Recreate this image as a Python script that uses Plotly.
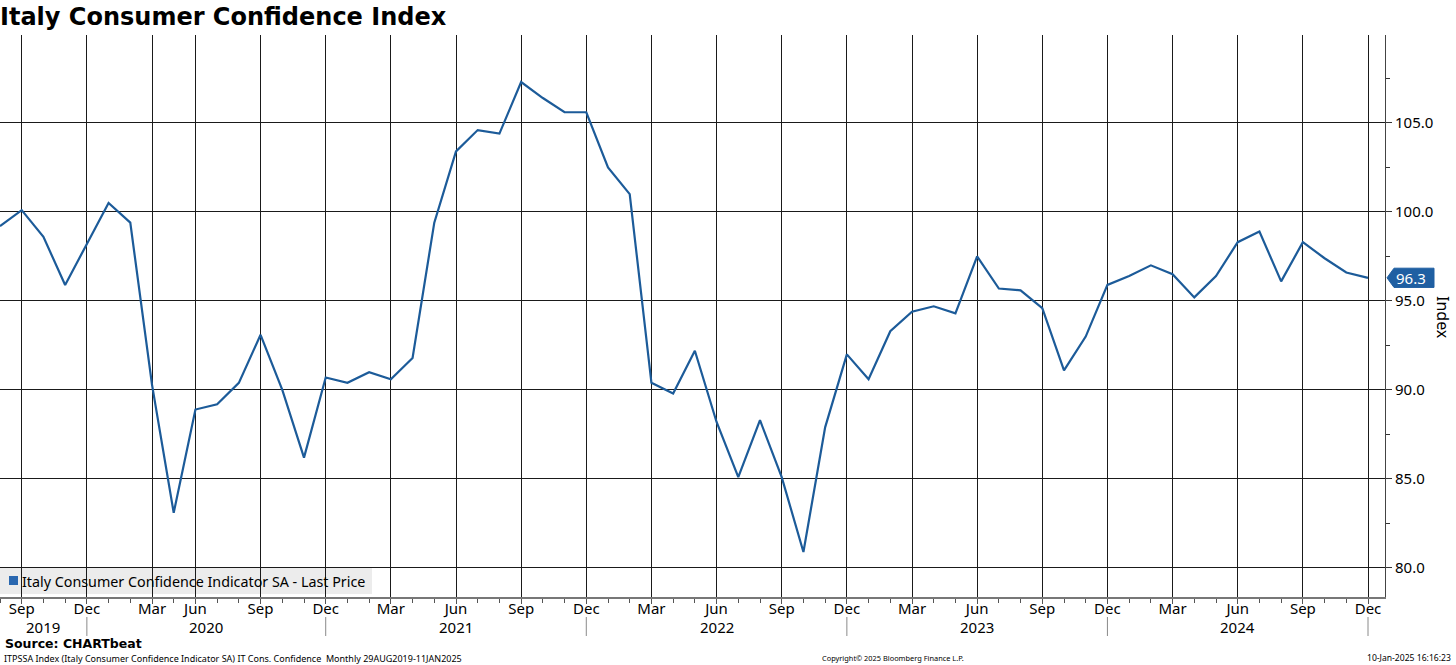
import plotly.graph_objects as go

# ---------------- data ----------------
months = [
    "2019-08", "2019-09", "2019-10", "2019-11", "2019-12",
    "2020-01", "2020-02", "2020-03", "2020-05", "2020-06", "2020-07", "2020-08",
    "2020-09", "2020-10", "2020-11", "2020-12",
    "2021-01", "2021-02", "2021-03", "2021-04", "2021-05", "2021-06", "2021-07",
    "2021-08", "2021-09", "2021-10", "2021-11", "2021-12",
    "2022-01", "2022-02", "2022-03", "2022-04", "2022-05", "2022-06", "2022-07",
    "2022-08", "2022-09", "2022-10", "2022-11", "2022-12",
    "2023-01", "2023-02", "2023-03", "2023-04", "2023-05", "2023-06", "2023-07",
    "2023-08", "2023-09", "2023-10", "2023-11", "2023-12",
    "2024-01", "2024-02", "2024-03", "2024-04", "2024-05", "2024-06", "2024-07",
    "2024-08", "2024-09", "2024-10", "2024-11", "2024-12",
]
confidence = [
    99.2, 100.1, 98.6, 95.9, 98.2,
    100.5, 99.4, 90.3, 83.1, 88.9, 89.2, 90.4, 93.1, 90.0, 86.2, 90.7,
    90.4, 91.0, 90.6, 91.8, 99.4, 103.4, 104.6, 104.4, 107.3, 106.4, 105.6, 105.6,
    102.5, 101.0, 90.4, 89.8, 92.2, 88.2, 85.1, 88.3, 85.1, 80.9, 87.9, 92.0,
    90.6, 93.3, 94.4, 94.7, 94.3, 97.5, 95.7, 95.6, 94.6, 91.1, 93.0, 95.9,
    96.4, 97.0, 96.5, 95.2, 96.4, 98.3, 98.9, 96.1, 98.3, 97.4, 96.6, 96.3,
]
month_abbr = {"03": "Mar", "06": "Jun", "09": "Sep", "12": "Dec"}
y_ticks = [80, 85, 90, 95, 100, 105]

series_name = "Italy Consumer Confidence Indicator SA - Last Price"
title_text = "Italy Consumer Confidence Index"

# ---------------- derived ----------------
idx = list(range(len(months)))
tick_idx = [i for i, m in enumerate(months) if m[5:] in month_abbr]
tick_txt = [month_abbr[months[i][5:]] for i in tick_idx]
dec_idx = [i for i, m in enumerate(months) if m[5:] == "12"]
years = sorted(set(m[:4] for m in months))

LINE = "#1c5b99"
FONT = "Noto Sans, Liberation Sans, sans-serif"

fig = go.Figure()
fig.add_trace(go.Scatter(
    x=idx, y=confidence, mode="lines", name=series_name,
    line=dict(color=LINE, width=2.2), showlegend=False,
    hoverinfo="skip",
))

W, H = 1456, 665
ml, mr, mt, mb = 0, 71, 35, 68
plot_h = H - mt - mb
plot_w = W - ml - mr


def py(pix):
    """pixel row -> paper y"""
    return (H - mb - pix) / plot_h


def px(pix):
    return (pix - ml) / plot_w


shapes = []
annotations = []

# legend box (drawn below grid lines, as in the reference)
shapes.append(dict(type="rect", xref="paper", yref="paper", layer="below",
                   x0=px(0), x1=px(372), y0=py(594), y1=py(567),
                   fillcolor="#ececec", line=dict(width=0)))
shapes.append(dict(type="rect", xref="paper", yref="paper",
                   x0=px(9), x1=px(18), y0=py(585), y1=py(576),
                   fillcolor="#2a68b0", line=dict(width=0)))
annotations.append(dict(xref="paper", yref="paper", x=px(20), y=py(581),
                        xanchor="left", yanchor="middle", text=series_name,
                        showarrow=False, font=dict(family=FONT, size=14.3, color="#000")))

# year separators and year labels
for d in dec_idx:
    shapes.append(dict(type="line", xref="x", yref="paper", x0=d, x1=d,
                       y0=py(617), y1=py(636), line=dict(color="#8a8a8a", width=1)))
bounds = [0] + dec_idx
for k, yr in enumerate(years):
    annotations.append(dict(xref="x", yref="paper", x=(bounds[k] + bounds[k + 1]) / 2,
                            y=py(627), text=yr, showarrow=False, xanchor="center",
                            yanchor="middle",
                            font=dict(family=FONT, size=15, color="#000")))

# last value label
last = confidence[-1]
x_tip, x_b0, x_b1 = px(1387), px(1394), px(1434)
hh = 0.54
shapes.append(dict(type="path", xref="paper", yref="y",
                   path=f"M {x_tip} {last} L {x_b0} {last + hh} L {x_b1} {last + hh} "
                        f"L {x_b1} {last - hh} L {x_b0} {last - hh} Z",
                   fillcolor="#1f5fa2", line=dict(color="#1f5fa2", width=1)))
annotations.append(dict(xref="paper", yref="y", x=(x_b0 + x_b1) / 2 - 0.002, y=last,
                        text=f"{last:.1f}", showarrow=False, xanchor="center",
                        yanchor="middle", font=dict(family=FONT, size=15, color="white")))

# axis title
annotations.append(dict(xref="paper", yref="paper", x=px(1443), y=py(317),
                        text="Index", textangle=90, showarrow=False,
                        xanchor="center", yanchor="middle",
                        font=dict(family=FONT, size=16, color="#000")))

# footer texts
annotations += [
    dict(xref="paper", yref="paper", x=px(3), y=py(643), xanchor="left", yanchor="middle",
         text="<b>Source: CHARTbeat</b>", showarrow=False,
         font=dict(family="DejaVu Sans", size=12.5, color="#000")),
    dict(xref="paper", yref="paper", x=px(2), y=py(658), xanchor="left", yanchor="middle",
         text="ITPSSA Index (Italy Consumer Confidence Indicator SA) IT Cons. Confidence  Monthly 29AUG2019-11JAN2025",
         showarrow=False, font=dict(family=FONT, size=9, color="#000")),
    dict(xref="paper", yref="paper", x=px(893), y=py(658), xanchor="center", yanchor="middle",
         text="Copyright\u00a9 2025 Bloomberg Finance L.P.", showarrow=False,
         font=dict(family=FONT, size=7.4, color="#000")),
    dict(xref="paper", yref="paper", x=px(1453), y=py(658), xanchor="right", yanchor="middle",
         text="10-Jan-2025 16:16:23", showarrow=False,
         font=dict(family=FONT, size=8.6, color="#000")),
]

x_max = 1385 / (1368 / (len(months) - 1))

fig.update_layout(
    width=W, height=H,
    margin=dict(l=ml, r=mr, t=mt, b=mb),
    paper_bgcolor="white", plot_bgcolor="white",
    title=dict(text=f"<b>{title_text}</b>", x=0.0, xref="container", xanchor="left",
               y=1 - 17 / H, yref="container", yanchor="middle",
               font=dict(family="DejaVu Sans", size=24, color="#000")),
    showlegend=False,
    shapes=shapes,
    annotations=annotations,
    xaxis=dict(
        range=[0, x_max], tickmode="array", tickvals=tick_idx, ticktext=tick_txt,
        showgrid=True, gridcolor="#1a1a1a", gridwidth=1,
        ticks="outside", ticklen=5, tickcolor="#555",
        ticklabelstandoff=-8,
        showline=True, linecolor="#777", linewidth=1.5,
        minor=dict(dtick=1, tick0=0, ticks="outside", ticklen=4, tickcolor="#555", showgrid=False),
        tickfont=dict(family=FONT, size=15, color="#000"),
        zeroline=False, fixedrange=True,
    ),
    yaxis=dict(
        side="right", range=[78.37, 109.94], tickmode="array", tickvals=y_ticks,
        ticktext=[f"{v:.1f}" for v in y_ticks],
        showgrid=True, gridcolor="#1a1a1a", gridwidth=1,
        ticks="outside", ticklen=6, tickcolor="#333",
        showline=True, linecolor="#444", linewidth=1,
        minor=dict(dtick=2.5, tick0=0, ticks="outside", ticklen=4, tickcolor="#333", showgrid=False),
        tickfont=dict(family=FONT, size=15, color="#000"),
        zeroline=False, fixedrange=True,
    ),
)

fig.write_html(
    "out.html",
    config={"displayModeBar": False},
    post_script="document.body.style.margin='0px';document.body.style.padding='0px';"
                "document.documentElement.style.overflow='hidden';",
)
